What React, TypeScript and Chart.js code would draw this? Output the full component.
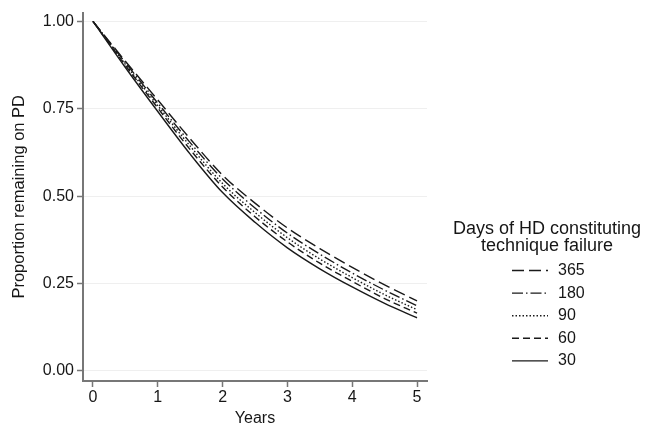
import React, { useEffect, useRef } from "react";
import { Chart, registerables } from "chart.js";

Chart.register(...registerables);

const years = [0, 0.5, 1, 1.5, 2, 2.5, 3, 3.5, 4, 4.5, 5];
const seriesLabels = ["365", "180", "90", "60", "30"];
const d365 = [1, 0.886, 0.775, 0.664, 0.56, 0.48, 0.409, 0.35, 0.296, 0.246, 0.2];
const d180 = [1, 0.882, 0.766, 0.653, 0.549, 0.466, 0.394, 0.334, 0.28, 0.231, 0.186];
const d90 = [1, 0.877, 0.759, 0.643, 0.536, 0.453, 0.381, 0.32, 0.267, 0.218, 0.175];
const d60 = [1, 0.874, 0.752, 0.633, 0.526, 0.441, 0.369, 0.308, 0.256, 0.207, 0.165];
const d30 = [1, 0.868, 0.742, 0.62, 0.51, 0.425, 0.352, 0.292, 0.24, 0.193, 0.152];
const yTicks = [0, 0.25, 0.5, 0.75, 1];
const xTicks = [0, 1, 2, 3, 4, 5];
const legendTitle = ["Days of HD constituting", "technique failure"];
const xTitle = "Years";
const yTitle = "Proportion remaining on PD";

const FONT = "'Liberation Sans', Arial, sans-serif";
const TEXT = "#161616";
const dashes: number[][] = [[12, 5], [11, 3, 1.5, 3], [1.5, 2], [7, 4], []];

const legendPlugin = {
  id: "customLegend",
  afterDraw(chart: any) {
    const ctx = chart.ctx;
    ctx.save();
    ctx.fillStyle = TEXT;
    ctx.textBaseline = "middle";
    ctx.textAlign = "center";
    ctx.font = `18px ${FONT}`;
    const cx = 547;
    ctx.fillText(legendTitle[0], cx, 229);
    ctx.fillText(legendTitle[1], cx, 246);
    const rowY0 = 270.5;
    const rowGap = 22.6;
    chart.data.datasets.forEach((ds: any, i: number) => {
      const y = rowY0 + i * rowGap;
      ctx.save();
      ctx.strokeStyle = ds.borderColor;
      ctx.lineWidth = ds.borderWidth;
      ctx.setLineDash(ds.borderDash || []);
      ctx.beginPath();
      ctx.moveTo(512, y);
      ctx.lineTo(548, y);
      ctx.stroke();
      ctx.restore();
      ctx.textAlign = "left";
      ctx.font = `16px ${FONT}`;
      ctx.fillText(ds.label, 558, y);
    });
    ctx.restore();
  },
};

export default function App() {
  const ref = useRef<HTMLCanvasElement>(null);
  useEffect(() => {
    if (!ref.current) return;
    const all = [d365, d180, d90, d60, d30];
    const chart = new Chart(ref.current, {
      type: "line",
      data: {
        datasets: all.map((arr, i) => ({
          label: seriesLabels[i],
          data: years.map((t, j) => ({ x: t, y: arr[j] })),
          borderColor: "#1a1a1a",
          borderWidth: 1.4,
          borderDash: dashes[i],
          pointRadius: 0,
          cubicInterpolationMode: "monotone" as const,
          fill: false,
        })),
      },
      options: {
        animation: false,
        responsive: false,
        devicePixelRatio: 1,
        layout: { padding: { top: 12, right: 224, left: 0, bottom: 0 } },
        plugins: { legend: { display: false }, tooltip: { enabled: false } },
        scales: {
          x: {
            type: "linear",
            min: -0.154,
            max: 5.154,
            afterBuildTicks: (s: any) => {
              s.ticks = xTicks.map((v) => ({ value: v }));
            },
            afterFit: (s: any) => {
              s.height = 47;
            },
            ticks: {
              color: TEXT,
              font: { family: FONT, size: 16 },
              padding: 1,
              callback: (v: any) => String(v),
            },
            grid: {
              drawOnChartArea: false,
              drawTicks: true,
              tickLength: 6,
              tickColor: "#777",
              tickWidth: 1.5,
            },
            border: { color: "#777", width: 2 },
            title: {
              display: true,
              text: xTitle,
              color: TEXT,
              font: { family: FONT, size: 16 },
              padding: { top: 0, bottom: 0 },
            },
          },
          y: {
            type: "linear",
            min: -0.029,
            max: 1.025,
            afterBuildTicks: (s: any) => {
              s.ticks = yTicks.map((v) => ({ value: v }));
            },
            afterFit: (s: any) => {
              s.width = 83;
            },
            ticks: {
              color: TEXT,
              font: { family: FONT, size: 16 },
              padding: 3,
              callback: (v: any) => Number(v).toFixed(2),
            },
            grid: {
              color: "#efefef",
              lineWidth: 1,
              drawTicks: true,
              tickLength: 6,
              tickColor: "#777",
              tickWidth: 1.5,
            },
            border: { color: "#777", width: 2 },
            title: {
              display: true,
              text: yTitle,
              color: TEXT,
              font: { family: FONT, size: 16.5 },
              padding: { top: 10, bottom: 2 },
            },
          },
        },
      },
      plugins: [legendPlugin],
    });
    return () => chart.destroy();
  }, []);
  return (
    <div style={{ position: "fixed", left: 0, top: 0, width: 651, height: 428, background: "#fff" }}>
      <canvas ref={ref} width={651} height={428} />
    </div>
  );
}
